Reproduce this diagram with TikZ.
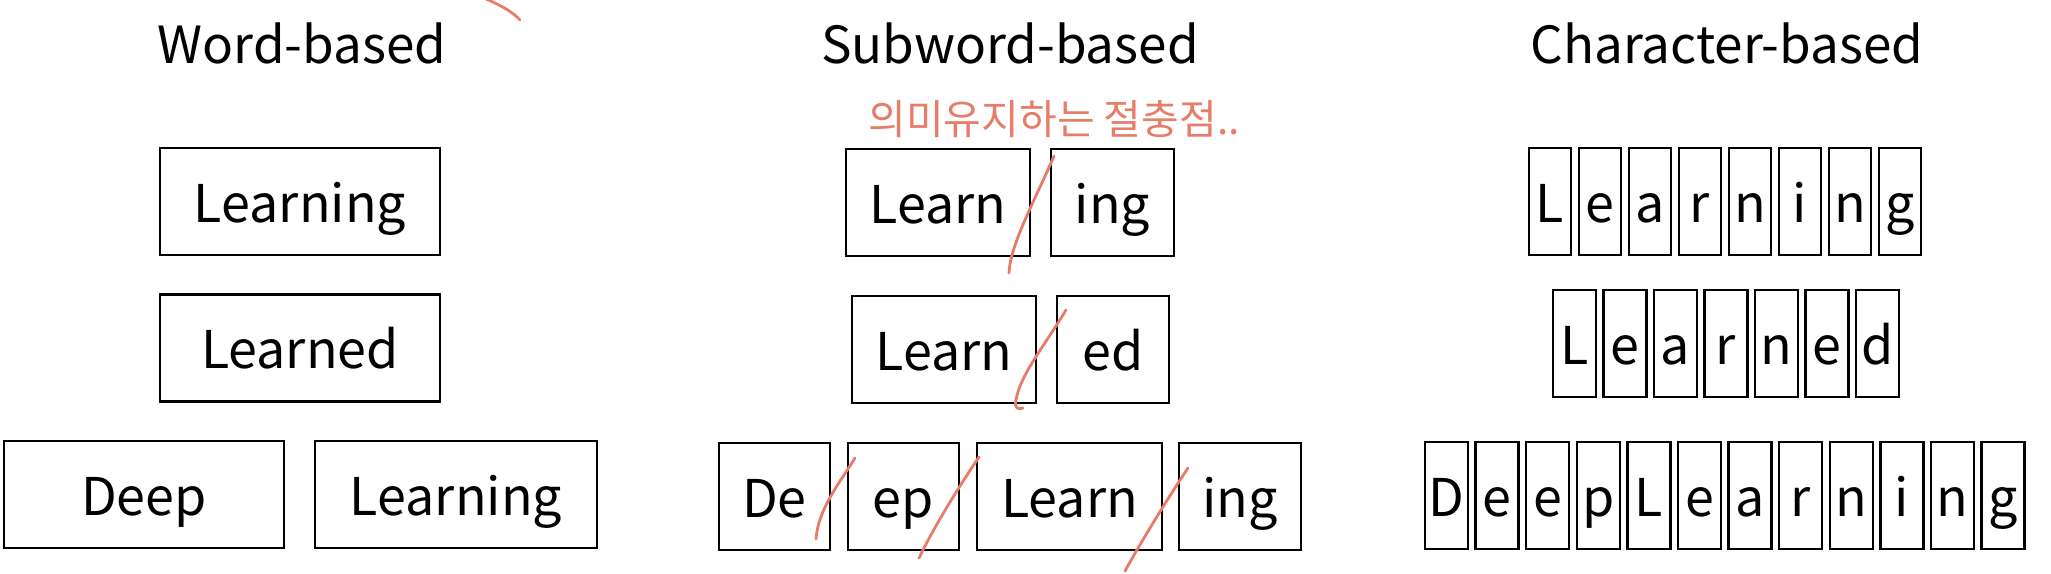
\documentclass[tikz,border=0pt]{standalone}
\usepackage{fontspec}
\setmainfont{Noto Sans CJK KR}
\definecolor{penred}{RGB}{230,125,105}
\begin{document}
\begin{tikzpicture}[x=0.5pt,y=-0.5pt,
  title/.style={font=\fontsize{25.6}{28}\selectfont, inner sep=0pt, anchor=base},
  tok/.style={draw, line width=1.3pt, inner sep=0pt, text height=21pt, text depth=0.5pt,
    minimum height=53.5pt, font=\fontsize{26}{28}\selectfont},
  ch/.style={tok, line width=1.2pt},
  hand/.style={text=penred, font=\fontsize{20.5}{22}\selectfont, inner sep=0pt, anchor=base west},
  penline/.style={draw=penred, line width=1.4pt, line cap=round, line join=round}]
\useasboundingbox (0,0) rectangle (2051,573);

% titles
\node[title] (t1) at (302,63) {Word-based};
\node[title] (t2) at (1010,63) {Subword-based};
\node[title] (t3) at (1727,63) {Character-based};

% word-based
\node[tok, minimum width=140pt] (w1) at (300,201.5) {Learning};
\node[tok, minimum width=140pt] (w2) at (300,348) {Learned};
\node[tok, minimum width=140pt] (w3) at (144,494.5) {Deep};
\node[tok, minimum width=141pt] (w4) at (456,494.5) {Learning};

% subword-based
\node[tok, minimum width=92pt] (s1) at (938,202.5) {Learn};
\node[tok, minimum width=61.5pt] (s2) at (1112.5,202.5) {ing};
\node[tok, minimum width=92pt] (s3) at (944,349.5) {Learn};
\node[tok, minimum width=56pt] (s4) at (1113,349.5) {ed};
\node[tok, minimum width=55.5pt] (s5) at (774.5,496.5) {De};
\node[tok, minimum width=55.5pt] (s6) at (903.5,496.5) {ep};
\node[tok, minimum width=92.5pt] (s7) at (1069.5,496.5) {Learn};
\node[tok, minimum width=61pt] (s8) at (1240,496.5) {ing};

% character-based
\foreach \l [count=\i from 0] in {L,e,a,r,n,i,n,g}
  \node[ch, minimum width=21pt] (ca\i) at ({1550+50*\i},201.5) {\l};
\foreach \l [count=\i from 0] in {L,e,a,r,n,e,d}
  \node[ch, minimum width=21.5pt] (cb\i) at ({1574.5+50.5*\i},343.5) {\l};
\foreach \l [count=\i from 0] in {D,e,e,p,L,e,a,r,n,i,n,g}
  \node[ch, minimum width=21.5pt] (cc\i) at ({1446.5+50.6*\i},495.5) {\l};

% handwritten notes
\node[hand] (note) at (868,134) {의미유지하는 절충점..};
\draw[penline] (484,-2) .. controls (498,4) and (512,11) .. (520,20);
\draw[penline] (1054,156) .. controls (1035,200) and (1010,245) .. (1009,273);
\draw[penline] (1066,310) .. controls (1045,345) and (1020,375) .. (1016,400)
  .. controls (1014,408) and (1018,410) .. (1023,408);
\draw[penline] (855,458) .. controls (838,485) and (818,510) .. (816,539);
\draw[penline] (979,457) .. controls (960,485) and (935,525) .. (919,558);
\draw[penline] (1188,468) .. controls (1170,495) and (1145,535) .. (1125,571);
\end{tikzpicture}
\end{document}
